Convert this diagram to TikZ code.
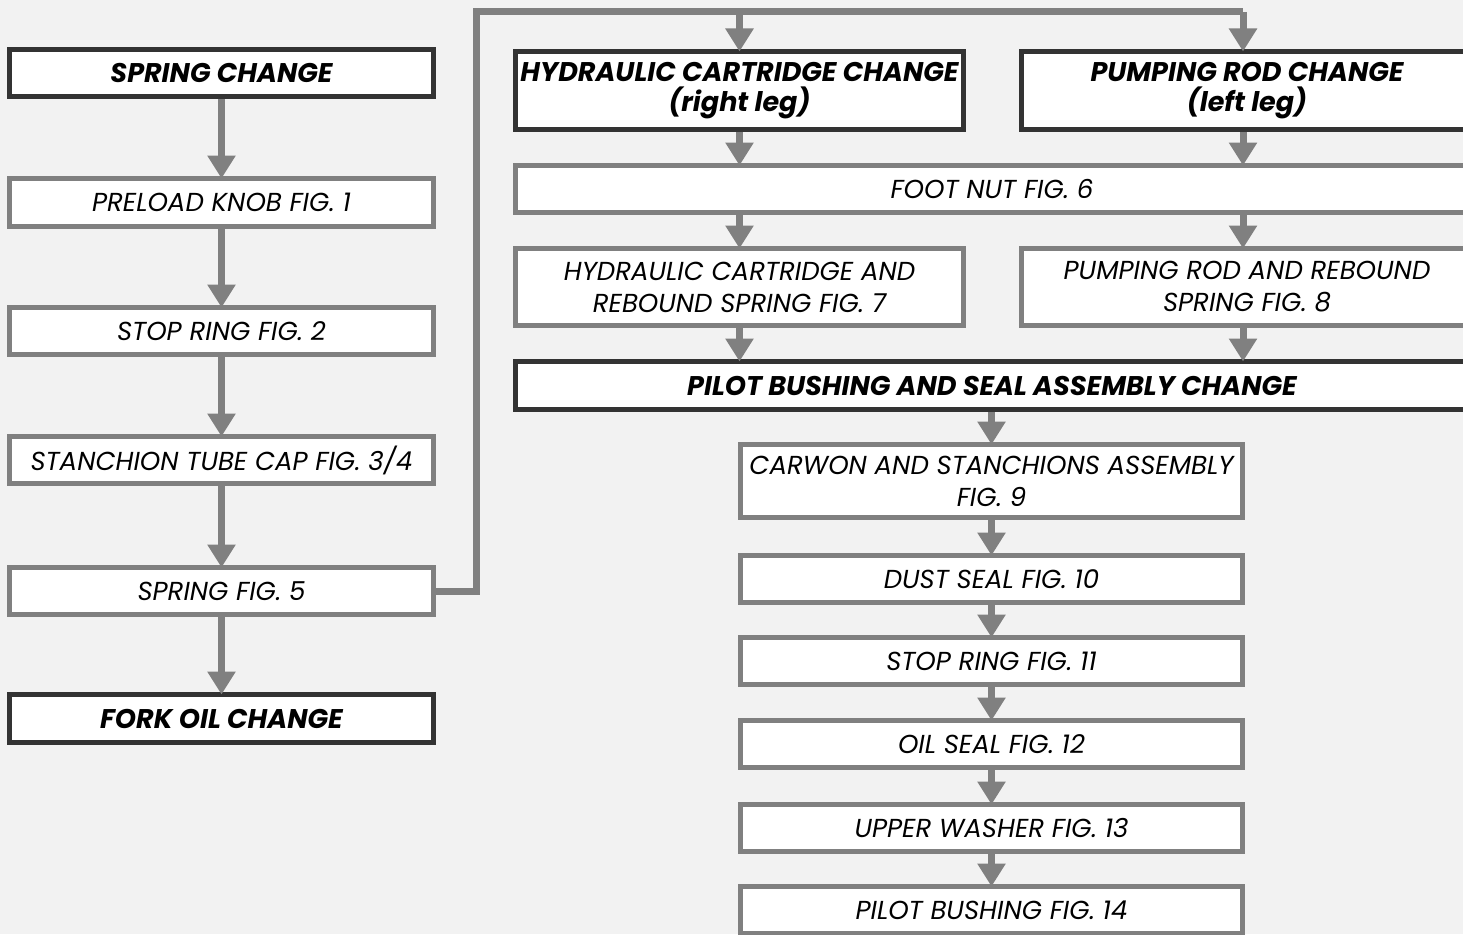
\documentclass[tikz,border=0pt]{standalone}
\usepackage{fontspec}
\setmainfont{Poppins}
\usetikzlibrary{arrows.meta}
\definecolor{bg}{HTML}{F2F2F2}
\definecolor{lgray}{HTML}{808080}
\definecolor{dgray}{HTML}{333333}
\begin{document}
\begin{tikzpicture}[x=1pt,y=-1pt,
  stepbox/.style={draw=lgray,line width=5pt,fill=white,inner sep=0pt,align=center,
     font=\fontsize{26}{32}\selectfont\itshape},
  headbox/.style={stepbox,draw=dgray,font=\fontsize{27}{30}\selectfont\bfseries\itshape},
  conn/.style={draw=lgray,line width=7pt},
  arr/.style={conn,-{Triangle[width=27pt,length=23pt]},shorten >=-2.5pt}]
\fill[bg] (0,0) rectangle (1463,934);
\useasboundingbox (0,0) rectangle (1463,934);
% left column
\node[headbox,minimum width=424pt,minimum height=47pt] (sc) at (221.5,73) {SPRING CHANGE};
\node[stepbox,minimum width=424pt,minimum height=48pt] (pk) at (221.5,202.5) {PRELOAD KNOB FIG. 1};
\node[stepbox,minimum width=424pt,minimum height=47pt] (sr2) at (221.5,331) {STOP RING FIG. 2};
\node[stepbox,minimum width=424pt,minimum height=47pt] (stc) at (221.5,460) {STANCHION TUBE CAP FIG. 3/4};
\node[stepbox,minimum width=424pt,minimum height=47pt] (sp5) at (221.5,591) {SPRING FIG. 5};
\node[headbox,minimum width=424pt,minimum height=48pt] (fo) at (221.5,718.5) {FORK OIL CHANGE};
% middle
\node[headbox,minimum width=448pt,minimum height=78pt] (hc) at (739.5,90.5) {HYDRAULIC CARTRIDGE CHANGE\\(right leg)};
\node[headbox,minimum width=451pt,minimum height=78pt] (pr) at (1247,90.5) {PUMPING ROD CHANGE\\(left leg)};
\node[stepbox,minimum width=953pt,minimum height=47pt] (fn) at (992,189) {FOOT NUT FIG. 6};
\node[stepbox,minimum width=448pt,minimum height=77pt] (hr) at (739.5,287) {HYDRAULIC CARTRIDGE AND\\REBOUND SPRING FIG. 7};
\node[stepbox,minimum width=451pt,minimum height=77pt] (prr) at (1247,287) {PUMPING ROD AND REBOUND\\SPRING FIG. 8};
\node[headbox,minimum width=953pt,minimum height=48pt] (pb) at (992,385.5) {PILOT BUSHING AND SEAL ASSEMBLY CHANGE};
% right column
\node[stepbox,minimum width=502pt,minimum height=73pt] (cw) at (991.5,481) {CARWON AND STANCHIONS ASSEMBLY\\FIG. 9};
\node[stepbox,minimum width=502pt,minimum height=47pt] (ds) at (991.5,579) {DUST SEAL FIG. 10};
\node[stepbox,minimum width=502pt,minimum height=47pt] (sr11) at (991.5,661) {STOP RING FIG. 11};
\node[stepbox,minimum width=502pt,minimum height=47pt] (os) at (991.5,744) {OIL SEAL FIG. 12};
\node[stepbox,minimum width=502pt,minimum height=47pt] (uw) at (991.5,828) {UPPER WASHER FIG. 13};
\node[stepbox,minimum width=502pt,minimum height=47pt] (pb14) at (991.5,910) {PILOT BUSHING FIG. 14};
% connectors
\draw[arr] (sc.south) -- (pk.north);
\draw[arr] (pk.south) -- (sr2.north);
\draw[arr] (sr2.south) -- (stc.north);
\draw[arr] (stc.south) -- (sp5.north);
\draw[arr] (sp5.south) -- (fo.north);
\coordinate (tl) at (476,12);
\coordinate (tr) at (1243,12);
\coordinate (rx) at (1243,0);
\draw[conn,line join=miter] (sp5.east) -- (sp5.east -| tl) -- (tl) -- (tr);
\draw[arr] (hc.north |- tl) -- (hc.north);
\draw[arr] (tr) -- (pr.north -| tr);
\draw[arr] (hc.south) -- (fn.north -| hc.south);
\draw[arr] (pr.south -| rx) -- (fn.north -| rx);
\draw[arr] (fn.south -| hr.north) -- (hr.north);
\draw[arr] (fn.south -| rx) -- (prr.north -| rx);
\draw[arr] (hr.south) -- (pb.north -| hr.south);
\draw[arr] (prr.south -| rx) -- (pb.north -| rx);
\draw[arr] (pb.south -| cw.north) -- (cw.north);
\draw[arr] (cw.south) -- (ds.north);
\draw[arr] (ds.south) -- (sr11.north);
\draw[arr] (sr11.south) -- (os.north);
\draw[arr] (os.south) -- (uw.north);
\draw[arr] (uw.south) -- (pb14.north);
\end{tikzpicture}
\end{document}
